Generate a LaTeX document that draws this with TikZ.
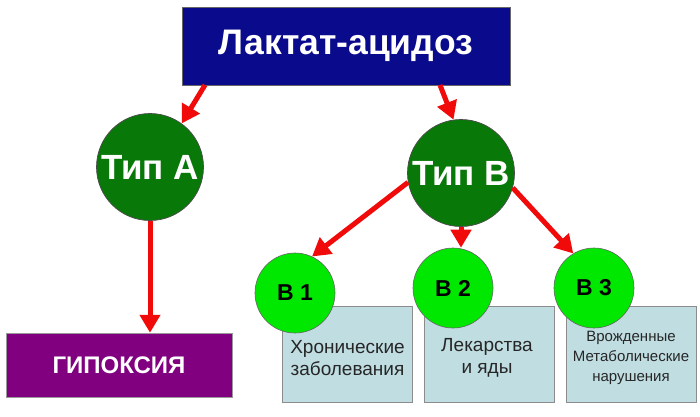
\documentclass[tikz,border=0pt]{standalone}
\usepackage{fontspec}
\setmainfont{Liberation Sans}
\usetikzlibrary{arrows.meta}
\definecolor{titleblue}{RGB}{10,10,140}
\definecolor{darkgr}{RGB}{8,120,8}
\definecolor{lightgr}{RGB}{0,232,0}
\definecolor{hypo}{RGB}{128,0,128}
\definecolor{boxfill}{RGB}{192,222,226}
\definecolor{arrred}{RGB}{240,10,10}
\tikzset{
  titlebox/.style={fill=titleblue, draw=black!60, line width=0.6pt, minimum width=328pt, minimum height=78pt, inner sep=0pt, text=white, font=\fontsize{35.5}{38}\selectfont\bfseries},
  hypbox/.style={fill=hypo, draw=black!40, line width=0.5pt, minimum width=226pt, minimum height=64pt, inner sep=0pt, text=white, font=\fontsize{24}{27}\selectfont\bfseries},
  bigcirc/.style={circle, fill=darkgr, draw=black!70, line width=0.7pt, minimum size=107pt, inner sep=0pt, text=white, font=\fontsize{35}{38}\selectfont\bfseries},
  smallcirc/.style={circle, fill=lightgr, draw=black!60, line width=0.6pt, minimum size=80pt, inner sep=0pt, text=black, font=\fontsize{23}{26}\selectfont\bfseries},
  infobox/.style={fill=boxfill, draw=black!45, line width=0.8pt, minimum width=130pt, minimum height=96pt, inner sep=0pt},
  infotext/.style={align=center, text=black!85, inner sep=0pt, yshift=-4pt},
  arr/.style={draw=arrred, line width=5pt, -{Triangle[width=20pt,length=18pt]}, arrred}
}
\begin{document}
\begin{tikzpicture}[x=1pt,y=-1pt]
\useasboundingbox[fill=white] (0,0) rectangle (700,416);
% boxes
\node[titlebox] (title) at (346,46) {Лактат-ацидоз};
\node[hypbox] (hyp) at (119,365) {ГИПОКСИЯ};
\node[infobox] (box1) at (347.5,354) {};
\node[infobox] (box2) at (489,354) {};
\node[infobox] (box3) at (631,354) {};
\node[infotext, font=\fontsize{19}{22}\selectfont] (box1t) at (box1.center) {Хронические\\заболевания};
\node[infotext, font=\fontsize{19}{22}\selectfont] (box2t) at ([xshift=-2pt]box2.center) {Лекарства\\и яды};
\node[infotext, font=\fontsize{15}{20}\selectfont] (box3t) at (box3.center) {Врожденные\\Метаболические\\нарушения};
% circles
\node[bigcirc] (A) at (150,167) {Тип А};
\node[bigcirc] (B) at (461,173) {Тип В};
\node[smallcirc] (B1) at (295,293) {В 1};
\node[smallcirc] (B2) at (453,288) {В 2};
\node[smallcirc] (B3) at (594,288) {В 3};
% arrows
\coordinate (t1) at (205,85);
\coordinate (t2) at (440,85);
\draw[arr] (t1) -- (A.54);
\draw[arr] (t2) -- (B.98);
\draw[arr] (A.south) -- (A.south |- hyp.north);
\draw[arr] (B.190) -- (B1.65);
\draw[arr] (B.south) -- (B.south |- B2.north);
\draw[arr] (B.-16) -- (B3.121);
\end{tikzpicture}
\end{document}
